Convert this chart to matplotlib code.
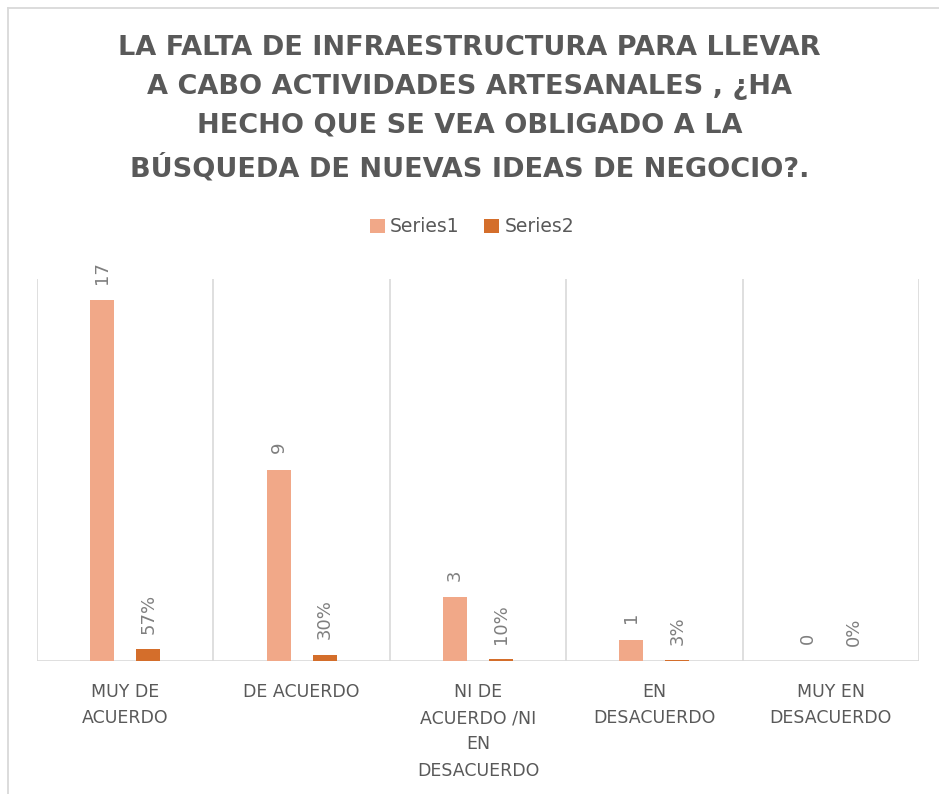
import matplotlib
matplotlib.use("Agg")
import matplotlib.pyplot as plt
from matplotlib.lines import Line2D
import numpy as np

categories = ["MUY DE\nACUERDO", "DE ACUERDO", "NI DE\nACUERDO /NI\nEN\nDESACUERDO",
              "EN\nDESACUERDO", "MUY EN\nDESACUERDO"]
series1 = [17, 9, 3, 1, 0]
series2 = [0.57, 0.30, 0.10, 0.03, 0.0]
series_names = ["Series1", "Series2"]
title = ("LA FALTA DE INFRAESTRUCTURA PARA LLEVAR\nA CABO ACTIVIDADES ARTESANALES , ¿HA\n"
         "HECHO QUE SE VEA OBLIGADO A LA\nBÚSQUEDA DE NUEVAS IDEAS DE NEGOCIO?.")

c1 = "#F1A888"
c2 = "#D46E2B"
txt = "#595959"
lbl = "#7F7F7F"
grid = "#D9D9D9"

W, H = 939, 794
fig = plt.figure(figsize=(W / 100, H / 100), dpi=100)
# chart-area border (left and top edges visible)
fig.lines.append(Line2D([7.5 / W, 7.5 / W], [0, 1 - 7.5 / H], transform=fig.transFigure,
                        color="#D9D9D9", lw=1.3))
fig.lines.append(Line2D([7.5 / W, 1], [1 - 7.5 / H, 1 - 7.5 / H], transform=fig.transFigure,
                        color="#D9D9D9", lw=1.3))

ax = fig.add_axes([37 / W, 1 - 661 / H, (919 - 37) / W, (661 - 279) / H])
x = np.arange(len(categories))
bw = 0.136
off = 0.13
b1 = ax.bar(x - off, series1, bw, color=c1, label=series_names[0], zorder=3)
b2 = ax.bar(x + off, series2, bw, color=c2, label=series_names[1], zorder=3)

ax.set_xlim(-0.5, len(categories) - 0.5)
ax.set_ylim(0, 18)
for s in ax.spines.values():
    s.set_visible(False)
ax.axhline(0, color=grid, lw=1.2, zorder=2)
for b in np.arange(-0.5, len(categories), 1.0):
    ax.axvline(b, color=grid, lw=1.2, zorder=1)
ax.set_yticks([])
ax.set_xticks(x)
ax.set_xticklabels(categories, fontsize=12.5, color=txt, linespacing=1.58,
                   family="DejaVu Sans")
ax.tick_params(axis="x", length=0, pad=16)

for xi, v in zip(x, series1):
    ax.annotate(f"{v}", (xi - off, v), xytext=(0, 12), textcoords="offset points",
                rotation=90, ha="center", va="bottom", fontsize=13, color=lbl,
                family="DejaVu Sans")
for xi, v in zip(x, series2):
    ax.annotate(f"{v:.0%}", (xi + off, v), xytext=(0, 11), textcoords="offset points",
                rotation=90, ha="center", va="bottom", fontsize=13, color=lbl,
                family="DejaVu Sans")

fig.text(0.5, 1 - 35 / H, title, ha="center", va="top", fontsize=19.5, fontweight="bold",
         color=txt, linespacing=1.65, family="DejaVu Sans")

fig.legend(handles=[b1, b2], loc="center", bbox_to_anchor=(472 / W, 1 - 227 / H), ncol=2,
           frameon=False, handlelength=0.8, handleheight=0.8,
           handletextpad=0.3, columnspacing=1.3, labelcolor=txt,
           prop={"family": "DejaVu Sans", "size": 13.5})

fig.savefig("out.png", dpi=100)
